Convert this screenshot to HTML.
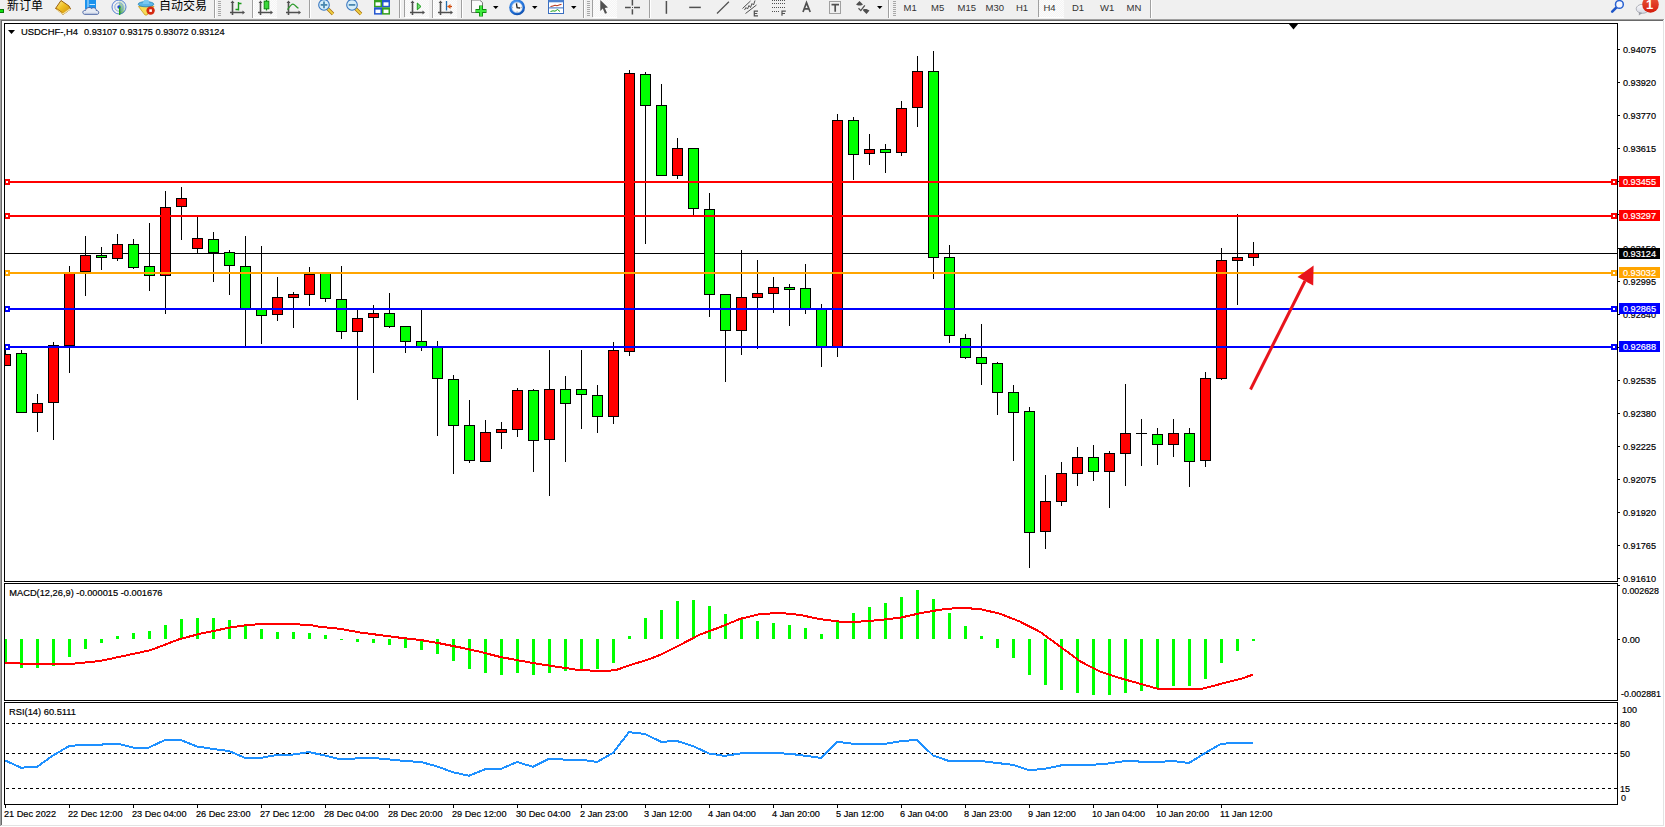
<!DOCTYPE html><html><head><meta charset="utf-8"><title>USDCHF-,H4</title><style>html,body{margin:0;padding:0;width:1665px;height:827px;overflow:hidden;background:#f0f0f0}text{font-family:'Liberation Sans', 'Noto Sans CJK SC', sans-serif}</style></head><body><svg width="1665" height="827" viewBox="0 0 1665 827" style="display:block"><rect x="0" y="0" width="1665" height="827" fill="#f0f0f0"/><rect x="0" y="19" width="1664" height="1" fill="#a0a0a0"/><rect x="0" y="19" width="1" height="807" fill="#a0a0a0"/><rect x="1" y="20" width="1662" height="1" fill="#696969"/><rect x="1" y="20" width="1" height="805" fill="#696969"/><rect x="0" y="826" width="1665" height="1" fill="#ffffff"/><rect x="1664" y="19" width="1" height="808" fill="#ffffff"/><rect x="1" y="825" width="1663" height="1" fill="#e3e3e3"/><rect x="1663" y="20" width="1" height="806" fill="#e3e3e3"/><rect x="2" y="21" width="1661" height="804" fill="#ffffff"/><defs><clipPath id="cm"><rect x="5" y="24" width="1612" height="557"/></clipPath><clipPath id="cmacd"><rect x="5" y="584" width="1612" height="116"/></clipPath><clipPath id="crsi"><rect x="5" y="703" width="1612" height="101"/></clipPath></defs><g font-family="'Liberation Sans', 'Noto Sans CJK SC', sans-serif"><rect x="-1" y="9.5" width="4.5" height="3" fill="#10e010" stroke="#0a7a0a" stroke-width="1"/><text x="7" y="9.6" font-size="12" fill="#000">新订单</text><defs><linearGradient id="gb" x1="0" y1="0" x2="1" y2="1"><stop offset="0" stop-color="#fff0a0"/><stop offset="0.45" stop-color="#f0c020"/><stop offset="1" stop-color="#c88a10"/></linearGradient><radialGradient id="rg" cx="0.1" cy="0.9" r="1"><stop offset="0" stop-color="#1e9a1e"/><stop offset="0.6" stop-color="#8cc88c"/><stop offset="1" stop-color="#e0eee0" stop-opacity="0.3"/></radialGradient></defs><path d="M61,0.5 L69,6 L70.5,9 L63,14.5 L55.5,8.5 Z" fill="url(#gb)" stroke="#9a5f0c" stroke-width="1" stroke-linejoin="round"/><path d="M56.5,9.5 L63,14 L70,9" fill="none" stroke="#f4e4a8" stroke-width="1.1"/><path d="M56,8 L62.5,12.8" stroke="#b8780e" stroke-width="1"/><rect x="85" y="0" width="11" height="9" fill="#1b93ee"/><path d="M88,0 V8 M89.5,4.5 H95" stroke="#c8e8ff" stroke-width="1"/><path d="M84.5,14.3 C82,13.8 82.3,10 85.6,10.4 C86,7.6 89.8,6.6 91.6,8.4 C93.2,7 96.4,7.8 96.2,10.4 C99,10.3 99.6,14 97.4,14.3 Z" fill="#e6ebf4" stroke="#4863a4" stroke-width="1"/><path d="M84.5,13.3 H97.5" stroke="#b8c4dc" stroke-width="1"/><path d="M119,0 A7,7 0 0 1 119,14.5 Z" fill="url(#rg)" opacity="0.8"/><circle cx="119" cy="7" r="7" fill="none" stroke="#3d6fcf" stroke-width="1" opacity="0.85"/><circle cx="119" cy="7" r="4.2" fill="none" stroke="#6f9ad8" stroke-width="1" opacity="0.8"/><circle cx="119" cy="7" r="1.7" fill="#2452c8"/><rect x="119" y="7" width="1.3" height="8" fill="#1ea51e"/><path d="M138.5,6.5 L154,6.5 L147,15 L145,15 Z" fill="#f6dc56" stroke="#c89a20" stroke-width="0.8"/><ellipse cx="146" cy="4.2" rx="7.8" ry="2.6" fill="#5ab5e6" stroke="#2a86b8" stroke-width="0.8"/><path d="M142.5,4 L144,0 L148.5,0 L149.5,4 Z" fill="#7ac8f0"/><circle cx="150.6" cy="10.6" r="4.2" fill="#d42a12"/><rect x="149.3" y="9.3" width="2.6" height="2.6" fill="#fff"/><text x="159" y="9.6" font-size="12" fill="#000">自动交易</text></g><defs><pattern id="chk" width="2" height="2" patternUnits="userSpaceOnUse"><rect width="2" height="2" fill="#f4f4f4"/><rect width="1" height="1" fill="#fcfcfc"/><rect x="1" y="1" width="1" height="1" fill="#fcfcfc"/></pattern></defs><rect x="253" y="0" width="24" height="17" fill="url(#chk)"/><rect x="253" y="17" width="24" height="1" fill="#ffffff"/><rect x="405" y="0" width="24" height="17" fill="url(#chk)"/><rect x="405" y="17" width="24" height="1" fill="#ffffff"/><rect x="433" y="0" width="24" height="17" fill="url(#chk)"/><rect x="433" y="17" width="24" height="1" fill="#ffffff"/><rect x="593" y="0" width="24" height="17" fill="url(#chk)"/><rect x="593" y="17" width="24" height="1" fill="#ffffff"/><rect x="1039" y="0" width="25" height="17" fill="url(#chk)"/><rect x="1039" y="17" width="25" height="1" fill="#ffffff"/><rect x="214" y="0" width="1" height="18" fill="#a0a0a0"/><rect x="215" y="0" width="1" height="18" fill="#ffffff"/><rect x="252" y="0" width="1" height="18" fill="#a0a0a0"/><rect x="253" y="0" width="1" height="18" fill="#ffffff"/><rect x="309" y="0" width="1" height="18" fill="#a0a0a0"/><rect x="310" y="0" width="1" height="18" fill="#ffffff"/><rect x="399" y="0" width="1" height="18" fill="#a0a0a0"/><rect x="400" y="0" width="1" height="18" fill="#ffffff"/><rect x="432" y="0" width="1" height="18" fill="#a0a0a0"/><rect x="433" y="0" width="1" height="18" fill="#ffffff"/><rect x="461" y="0" width="1" height="18" fill="#a0a0a0"/><rect x="462" y="0" width="1" height="18" fill="#ffffff"/><rect x="583" y="0" width="1" height="18" fill="#a0a0a0"/><rect x="584" y="0" width="1" height="18" fill="#ffffff"/><rect x="649" y="0" width="1" height="18" fill="#a0a0a0"/><rect x="650" y="0" width="1" height="18" fill="#ffffff"/><rect x="888" y="0" width="1" height="18" fill="#a0a0a0"/><rect x="889" y="0" width="1" height="18" fill="#ffffff"/><rect x="1150" y="0" width="1" height="18" fill="#a0a0a0"/><rect x="1151" y="0" width="1" height="18" fill="#ffffff"/><rect x="404" y="0" width="1" height="17" fill="#a0a0a0"/><rect x="592" y="0" width="1" height="17" fill="#a0a0a0"/><rect x="1038" y="0" width="1" height="17" fill="#a0a0a0"/><rect x="218" y="1" width="3" height="1" fill="#a8a8a8"/><rect x="218" y="3" width="3" height="1" fill="#a8a8a8"/><rect x="218" y="5" width="3" height="1" fill="#a8a8a8"/><rect x="218" y="7" width="3" height="1" fill="#a8a8a8"/><rect x="218" y="9" width="3" height="1" fill="#a8a8a8"/><rect x="218" y="11" width="3" height="1" fill="#a8a8a8"/><rect x="218" y="13" width="3" height="1" fill="#a8a8a8"/><rect x="218" y="15" width="3" height="1" fill="#a8a8a8"/><rect x="587" y="1" width="3" height="1" fill="#a8a8a8"/><rect x="587" y="3" width="3" height="1" fill="#a8a8a8"/><rect x="587" y="5" width="3" height="1" fill="#a8a8a8"/><rect x="587" y="7" width="3" height="1" fill="#a8a8a8"/><rect x="587" y="9" width="3" height="1" fill="#a8a8a8"/><rect x="587" y="11" width="3" height="1" fill="#a8a8a8"/><rect x="587" y="13" width="3" height="1" fill="#a8a8a8"/><rect x="587" y="15" width="3" height="1" fill="#a8a8a8"/><rect x="893" y="1" width="3" height="1" fill="#a8a8a8"/><rect x="893" y="3" width="3" height="1" fill="#a8a8a8"/><rect x="893" y="5" width="3" height="1" fill="#a8a8a8"/><rect x="893" y="7" width="3" height="1" fill="#a8a8a8"/><rect x="893" y="9" width="3" height="1" fill="#a8a8a8"/><rect x="893" y="11" width="3" height="1" fill="#a8a8a8"/><rect x="893" y="13" width="3" height="1" fill="#a8a8a8"/><rect x="893" y="15" width="3" height="1" fill="#a8a8a8"/><path d="M232.5,2 V15 M230,12.5 H243" stroke="#505050" stroke-width="1.6" fill="none"/><path d="M230.5,3 L232.5,0.5 L234.5,3 Z M242.5,10.5 L245,12.5 L242.5,14.5 Z" fill="#505050"/><path d="M238.5,2 V10.5 M238.5,3.5 H241.5 M238.5,9.5 H235.5" stroke="#1c9a1c" stroke-width="1.4" fill="none"/><path d="M260.5,2 V15 M258,12.5 H271" stroke="#505050" stroke-width="1.6" fill="none"/><path d="M258.5,3 L260.5,0.5 L262.5,3 Z M270.5,10.5 L273,12.5 L270.5,14.5 Z" fill="#505050"/><path d="M266.5,0 V10.5" stroke="#108a10" stroke-width="1.2"/><rect x="264.2" y="1.2" width="4.6" height="7.6" fill="#3ad83a" stroke="#108a10" stroke-width="1"/><path d="M288.5,2 V15 M286,12.5 H299" stroke="#505050" stroke-width="1.6" fill="none"/><path d="M286.5,3 L288.5,0.5 L290.5,3 Z M298.5,10.5 L301,12.5 L298.5,14.5 Z" fill="#505050"/><path d="M287.5,9.6 C290,6 291.5,4 293,4.2 C295,4.5 296.5,7.5 298.5,8.3" stroke="#2a9a2a" stroke-width="1.2" fill="none"/><path d="M327.5,8.5 L333,14" stroke="#a87010" stroke-width="3.4"/><path d="M327.5,8.5 L333,14" stroke="#f0d040" stroke-width="1.8"/><circle cx="324" cy="4.9" r="5.3" fill="#d6eefa" stroke="#3a78c0" stroke-width="1.1"/><path d="M320.7,4.9 H327.3" stroke="#4a88b0" stroke-width="1.8"/><path d="M324,1.6 V8.2" stroke="#4a88b0" stroke-width="1.8"/><path d="M355.5,8.5 L361,14" stroke="#a87010" stroke-width="3.4"/><path d="M355.5,8.5 L361,14" stroke="#f0d040" stroke-width="1.8"/><circle cx="352" cy="4.9" r="5.3" fill="#d6eefa" stroke="#3a78c0" stroke-width="1.1"/><path d="M348.7,4.9 H355.3" stroke="#4a88b0" stroke-width="1.8"/><rect x="374" y="0" width="8" height="7.3" fill="#34a01e"/><rect x="375.5" y="2.3" width="5" height="3.5" fill="#ffffff"/><rect x="382" y="0" width="8" height="7.3" fill="#2456d0"/><rect x="383.5" y="2.3" width="5" height="3.5" fill="#ffffff"/><rect x="374" y="7.3" width="8" height="7.3" fill="#2456d0"/><rect x="375.5" y="9.6" width="5" height="3.5" fill="#ffffff"/><rect x="382" y="7.3" width="8" height="7.3" fill="#34a01e"/><rect x="383.5" y="9.6" width="5" height="3.5" fill="#ffffff"/><path d="M412.5,2 V15 M410,12.5 H423" stroke="#505050" stroke-width="1.6" fill="none"/><path d="M410.5,3 L412.5,0.5 L414.5,3 Z M422.5,10.5 L425,12.5 L422.5,14.5 Z" fill="#505050"/><path d="M417.3,3 L421,6.5 L417.3,9.8 Z" fill="#70e070" stroke="#1c9a1c" stroke-width="1"/><path d="M440.5,2 V15 M438,12.5 H451" stroke="#505050" stroke-width="1.6" fill="none"/><path d="M438.5,3 L440.5,0.5 L442.5,3 Z M450.5,10.5 L453,12.5 L450.5,14.5 Z" fill="#505050"/><path d="M446.5,1 V10.5" stroke="#1f6fb0" stroke-width="1.3"/><path d="M447.5,6.5 H452" stroke="#c04010" stroke-width="1.3"/><path d="M447.5,6.5 L450.5,4 L450.5,9 Z" fill="#e05a10"/><path d="M471.5,0 H479.5 L482.5,2.5 V12.5 H471.5 Z" fill="#fbfbfb" stroke="#7a7a7a" stroke-width="1"/><path d="M481,5.5 V16.5 M475.5,11 H486.5" stroke="#0f8a0f" stroke-width="4"/><path d="M481,6 V16 M476,11 H486" stroke="#3ee83e" stroke-width="2.2"/><path d="M493,6 L498.5,6 L495.75,9 Z" fill="#000"/><path d="M532,6 L537.5,6 L534.75,9 Z" fill="#000"/><path d="M571,6 L576.5,6 L573.75,9 Z" fill="#000"/><path d="M877,6 L882.5,6 L879.75,9 Z" fill="#000"/><defs><radialGradient id="clk" cx="0.4" cy="0.3" r="0.8"><stop offset="0" stop-color="#5aa8ff"/><stop offset="0.7" stop-color="#1a68d0"/><stop offset="1" stop-color="#0a3c90"/></radialGradient></defs><circle cx="517.1" cy="7.4" r="7.9" fill="url(#clk)"/><circle cx="517.1" cy="7.4" r="5.3" fill="#fbfbfb" stroke="#9ab8e0" stroke-width="0.6"/><path d="M516.4,3.3 L517.1,7.6 L520.2,8" stroke="#202020" stroke-width="1.3" fill="none"/><path d="M517.1,2.6 V3.4 M517.1,11.4 V12.2 M512.3,7.4 H513.1 M521.1,7.4 H521.9" stroke="#808080" stroke-width="0.8"/><rect x="548.5" y="0.5" width="15" height="13" fill="#ffffff" stroke="#3a6ec0" stroke-width="1"/><rect x="548.5" y="0" width="15" height="2.3" fill="#4a80d0"/><path d="M549,7.9 H563" stroke="#3a6ec0" stroke-width="1"/><path d="M550.5,6.5 L553,6 L555,5.2 L557,5.8 L559,5 L561.5,4.4" stroke="#b02810" stroke-width="1" fill="none"/><path d="M550.5,11.5 L553,10.8 L555,11.2 L557.5,9.5 L560,11.5" stroke="#18a018" stroke-width="1" fill="none"/><path d="M600.3,0 L600.3,11 L602.8,8.6 L605,13.8 L607,13 L604.8,8 L608,7.6 Z" fill="#505050"/><path d="M625,7.4 H630.8 M634,7.4 H640 M632.4,0 V5.4 M632.4,9.2 V14.5" stroke="#505050" stroke-width="1.5"/><rect x="632" y="7" width="1" height="1" fill="#505050"/><path d="M666.4,1 V13.8" stroke="#505050" stroke-width="1.5"/><path d="M689.2,7.4 H700.8" stroke="#505050" stroke-width="1.5"/><path d="M717,13.5 L728.9,1.8" stroke="#505050" stroke-width="1.2"/><path d="M742.5,8.5 L750.5,1 M745.5,13.5 L756.5,5 M744.5,10 L746,7.5 L747.5,9 L749,5.5 L750.5,7.5 L752,3.5 L753.5,5 L755,0.5" stroke="#505050" stroke-width="1" fill="none"/><path d="M758,11.2 H754.3 V15.8 H758 M754.3,13.5 H757.3" stroke="#505050" stroke-width="1.2" fill="none"/><path d="M772,0.5 H785 M772,3.5 H785 M772,7.5 H785 M772,11.5 H780" stroke="#505050" stroke-width="1" stroke-dasharray="1 1"/><path d="M785.8,11.2 H782 V15.8 M782,13.5 H785" stroke="#505050" stroke-width="1.2" fill="none"/><path d="M803,12 L806.5,2.7 L810.2,12 M804.4,8.8 H808.8" stroke="#505050" stroke-width="1.7" fill="none"/><rect x="829.5" y="1.5" width="11" height="12" fill="none" stroke="#505050" stroke-width="1" stroke-dasharray="1 1"/><path d="M831.5,4.6 H839 M835.2,4.6 V11.8" stroke="#505050" stroke-width="1.7"/><path d="M856,4.5 L859.5,1 L863,4.5 L861,5.5 L858,5.5 Z M863.5,9 L866.5,9 L869.5,10.5 L866.5,14 L863,10.5 Z" fill="#505050"/><path d="M858.5,8.3 L860.8,10.6 L864.8,5.3" stroke="#505050" stroke-width="1.3" fill="none"/><text x="903.5" y="11" font-size="9.5" fill="#333" font-family="'Liberation Sans', 'Noto Sans CJK SC', sans-serif">M1</text><text x="931" y="11" font-size="9.5" fill="#333" font-family="'Liberation Sans', 'Noto Sans CJK SC', sans-serif">M5</text><text x="957.5" y="11" font-size="9.5" fill="#333" font-family="'Liberation Sans', 'Noto Sans CJK SC', sans-serif">M15</text><text x="985.5" y="11" font-size="9.5" fill="#333" font-family="'Liberation Sans', 'Noto Sans CJK SC', sans-serif">M30</text><text x="1016" y="11" font-size="9.5" fill="#333" font-family="'Liberation Sans', 'Noto Sans CJK SC', sans-serif">H1</text><text x="1043.5" y="11" font-size="9.5" fill="#333" font-family="'Liberation Sans', 'Noto Sans CJK SC', sans-serif">H4</text><text x="1072" y="11" font-size="9.5" fill="#333" font-family="'Liberation Sans', 'Noto Sans CJK SC', sans-serif">D1</text><text x="1100" y="11" font-size="9.5" fill="#333" font-family="'Liberation Sans', 'Noto Sans CJK SC', sans-serif">W1</text><text x="1126.5" y="11" font-size="9.5" fill="#333" font-family="'Liberation Sans', 'Noto Sans CJK SC', sans-serif">MN</text><path d="M1616.2,7.6 L1612.2,11.6" stroke="#1f56c8" stroke-width="2.6" stroke-linecap="round"/><circle cx="1619.4" cy="4.4" r="3.9" fill="#f4f6ff" stroke="#2a62d0" stroke-width="1.5"/><defs><linearGradient id="bub" x1="0" y1="0" x2="0" y2="1"><stop offset="0" stop-color="#fbfbfd"/><stop offset="1" stop-color="#d6d8e2"/></linearGradient><linearGradient id="bdg" x1="0" y1="0" x2="0" y2="1"><stop offset="0" stop-color="#ec5a3a"/><stop offset="1" stop-color="#d41c0c"/></linearGradient></defs><ellipse cx="1642.5" cy="8.8" rx="6.3" ry="4.5" fill="url(#bub)" stroke="#a8aab2" stroke-width="0.9"/><path d="M1639,12.3 L1638.8,15.6 L1642.5,13 Z" fill="#9a9ca4"/><circle cx="1650.5" cy="4.4" r="8.3" fill="url(#bdg)"/><text x="1649.5" y="9.2" font-size="13" font-weight="bold" fill="#fff" text-anchor="middle" font-family="Liberation Serif, serif">1</text><g clip-path="url(#cm)" shape-rendering="crispEdges"><rect x="5" y="253" width="1612" height="1" fill="#000"/><rect x="5" y="345" width="1" height="21" fill="#000"/><rect x="0" y="354" width="11" height="12" fill="#000"/><rect x="1" y="355" width="9" height="10" fill="#ff0000"/><rect x="21" y="350" width="1" height="63" fill="#000"/><rect x="16" y="353" width="11" height="60" fill="#000"/><rect x="17" y="354" width="9" height="58" fill="#00ff00"/><rect x="37" y="394" width="1" height="38" fill="#000"/><rect x="32" y="403" width="11" height="10" fill="#000"/><rect x="33" y="404" width="9" height="8" fill="#ff0000"/><rect x="53" y="342" width="1" height="98" fill="#000"/><rect x="48" y="345" width="11" height="58" fill="#000"/><rect x="49" y="346" width="9" height="56" fill="#ff0000"/><rect x="69" y="266" width="1" height="107" fill="#000"/><rect x="64" y="273" width="11" height="73" fill="#000"/><rect x="65" y="274" width="9" height="71" fill="#ff0000"/><rect x="85" y="236" width="1" height="60" fill="#000"/><rect x="80" y="255" width="11" height="17" fill="#000"/><rect x="81" y="256" width="9" height="15" fill="#ff0000"/><rect x="101" y="247" width="1" height="23" fill="#000"/><rect x="96" y="255" width="11" height="3" fill="#000"/><rect x="97" y="256" width="9" height="1" fill="#00ff00"/><rect x="117" y="234" width="1" height="27" fill="#000"/><rect x="112" y="244" width="11" height="15" fill="#000"/><rect x="113" y="245" width="9" height="13" fill="#ff0000"/><rect x="133" y="239" width="1" height="30" fill="#000"/><rect x="128" y="244" width="11" height="24" fill="#000"/><rect x="129" y="245" width="9" height="22" fill="#00ff00"/><rect x="149" y="223" width="1" height="68" fill="#000"/><rect x="144" y="266" width="11" height="10" fill="#000"/><rect x="145" y="267" width="9" height="8" fill="#00ff00"/><rect x="165" y="191" width="1" height="123" fill="#000"/><rect x="160" y="207" width="11" height="69" fill="#000"/><rect x="161" y="208" width="9" height="67" fill="#ff0000"/><rect x="181" y="187" width="1" height="53" fill="#000"/><rect x="176" y="198" width="11" height="9" fill="#000"/><rect x="177" y="199" width="9" height="7" fill="#ff0000"/><rect x="197" y="217" width="1" height="36" fill="#000"/><rect x="192" y="238" width="11" height="11" fill="#000"/><rect x="193" y="239" width="9" height="9" fill="#ff0000"/><rect x="213" y="232" width="1" height="50" fill="#000"/><rect x="208" y="239" width="11" height="14" fill="#000"/><rect x="209" y="240" width="9" height="12" fill="#00ff00"/><rect x="229" y="250" width="1" height="45" fill="#000"/><rect x="224" y="252" width="11" height="14" fill="#000"/><rect x="225" y="253" width="9" height="12" fill="#00ff00"/><rect x="245" y="236" width="1" height="111" fill="#000"/><rect x="240" y="266" width="11" height="43" fill="#000"/><rect x="241" y="267" width="9" height="41" fill="#00ff00"/><rect x="261" y="246" width="1" height="98" fill="#000"/><rect x="256" y="309" width="11" height="7" fill="#000"/><rect x="257" y="310" width="9" height="5" fill="#00ff00"/><rect x="277" y="277" width="1" height="44" fill="#000"/><rect x="272" y="297" width="11" height="18" fill="#000"/><rect x="273" y="298" width="9" height="16" fill="#ff0000"/><rect x="293" y="292" width="1" height="36" fill="#000"/><rect x="288" y="294" width="11" height="4" fill="#000"/><rect x="289" y="295" width="9" height="2" fill="#ff0000"/><rect x="309" y="267" width="1" height="39" fill="#000"/><rect x="304" y="274" width="11" height="21" fill="#000"/><rect x="305" y="275" width="9" height="19" fill="#ff0000"/><rect x="325" y="272" width="1" height="30" fill="#000"/><rect x="320" y="272" width="11" height="27" fill="#000"/><rect x="321" y="273" width="9" height="25" fill="#00ff00"/><rect x="341" y="266" width="1" height="73" fill="#000"/><rect x="336" y="299" width="11" height="33" fill="#000"/><rect x="337" y="300" width="9" height="31" fill="#00ff00"/><rect x="357" y="310" width="1" height="90" fill="#000"/><rect x="352" y="318" width="11" height="14" fill="#000"/><rect x="353" y="319" width="9" height="12" fill="#ff0000"/><rect x="373" y="305" width="1" height="68" fill="#000"/><rect x="368" y="313" width="11" height="5" fill="#000"/><rect x="369" y="314" width="9" height="3" fill="#ff0000"/><rect x="389" y="293" width="1" height="35" fill="#000"/><rect x="384" y="313" width="11" height="14" fill="#000"/><rect x="385" y="314" width="9" height="12" fill="#00ff00"/><rect x="405" y="326" width="1" height="27" fill="#000"/><rect x="400" y="326" width="11" height="16" fill="#000"/><rect x="401" y="327" width="9" height="14" fill="#00ff00"/><rect x="421" y="310" width="1" height="41" fill="#000"/><rect x="416" y="341" width="11" height="6" fill="#000"/><rect x="417" y="342" width="9" height="4" fill="#00ff00"/><rect x="437" y="341" width="1" height="95" fill="#000"/><rect x="432" y="347" width="11" height="32" fill="#000"/><rect x="433" y="348" width="9" height="30" fill="#00ff00"/><rect x="453" y="375" width="1" height="99" fill="#000"/><rect x="448" y="379" width="11" height="47" fill="#000"/><rect x="449" y="380" width="9" height="45" fill="#00ff00"/><rect x="469" y="400" width="1" height="63" fill="#000"/><rect x="464" y="425" width="11" height="36" fill="#000"/><rect x="465" y="426" width="9" height="34" fill="#00ff00"/><rect x="485" y="420" width="1" height="42" fill="#000"/><rect x="480" y="432" width="11" height="30" fill="#000"/><rect x="481" y="433" width="9" height="28" fill="#ff0000"/><rect x="501" y="422" width="1" height="27" fill="#000"/><rect x="496" y="429" width="11" height="4" fill="#000"/><rect x="497" y="430" width="9" height="2" fill="#ff0000"/><rect x="517" y="388" width="1" height="49" fill="#000"/><rect x="512" y="390" width="11" height="40" fill="#000"/><rect x="513" y="391" width="9" height="38" fill="#ff0000"/><rect x="533" y="389" width="1" height="83" fill="#000"/><rect x="528" y="390" width="11" height="51" fill="#000"/><rect x="529" y="391" width="9" height="49" fill="#00ff00"/><rect x="549" y="350" width="1" height="146" fill="#000"/><rect x="544" y="389" width="11" height="51" fill="#000"/><rect x="545" y="390" width="9" height="49" fill="#ff0000"/><rect x="565" y="376" width="1" height="86" fill="#000"/><rect x="560" y="389" width="11" height="15" fill="#000"/><rect x="561" y="390" width="9" height="13" fill="#00ff00"/><rect x="581" y="350" width="1" height="79" fill="#000"/><rect x="576" y="389" width="11" height="6" fill="#000"/><rect x="577" y="390" width="9" height="4" fill="#00ff00"/><rect x="597" y="385" width="1" height="48" fill="#000"/><rect x="592" y="395" width="11" height="22" fill="#000"/><rect x="593" y="396" width="9" height="20" fill="#00ff00"/><rect x="613" y="342" width="1" height="82" fill="#000"/><rect x="608" y="350" width="11" height="67" fill="#000"/><rect x="609" y="351" width="9" height="65" fill="#ff0000"/><rect x="629" y="70" width="1" height="286" fill="#000"/><rect x="624" y="73" width="11" height="279" fill="#000"/><rect x="625" y="74" width="9" height="277" fill="#ff0000"/><rect x="645" y="72" width="1" height="172" fill="#000"/><rect x="640" y="74" width="11" height="32" fill="#000"/><rect x="641" y="75" width="9" height="30" fill="#00ff00"/><rect x="661" y="84" width="1" height="92" fill="#000"/><rect x="656" y="105" width="11" height="71" fill="#000"/><rect x="657" y="106" width="9" height="69" fill="#00ff00"/><rect x="677" y="138" width="1" height="41" fill="#000"/><rect x="672" y="148" width="11" height="28" fill="#000"/><rect x="673" y="149" width="9" height="26" fill="#ff0000"/><rect x="693" y="148" width="1" height="67" fill="#000"/><rect x="688" y="148" width="11" height="61" fill="#000"/><rect x="689" y="149" width="9" height="59" fill="#00ff00"/><rect x="709" y="193" width="1" height="124" fill="#000"/><rect x="704" y="209" width="11" height="86" fill="#000"/><rect x="705" y="210" width="9" height="84" fill="#00ff00"/><rect x="725" y="294" width="1" height="88" fill="#000"/><rect x="720" y="294" width="11" height="37" fill="#000"/><rect x="721" y="295" width="9" height="35" fill="#00ff00"/><rect x="741" y="250" width="1" height="105" fill="#000"/><rect x="736" y="297" width="11" height="34" fill="#000"/><rect x="737" y="298" width="9" height="32" fill="#ff0000"/><rect x="757" y="260" width="1" height="89" fill="#000"/><rect x="752" y="293" width="11" height="5" fill="#000"/><rect x="753" y="294" width="9" height="3" fill="#ff0000"/><rect x="773" y="277" width="1" height="36" fill="#000"/><rect x="768" y="287" width="11" height="7" fill="#000"/><rect x="769" y="288" width="9" height="5" fill="#ff0000"/><rect x="789" y="284" width="1" height="42" fill="#000"/><rect x="784" y="287" width="11" height="3" fill="#000"/><rect x="785" y="288" width="9" height="1" fill="#00ff00"/><rect x="805" y="264" width="1" height="50" fill="#000"/><rect x="800" y="288" width="11" height="21" fill="#000"/><rect x="801" y="289" width="9" height="19" fill="#00ff00"/><rect x="821" y="304" width="1" height="63" fill="#000"/><rect x="816" y="309" width="11" height="38" fill="#000"/><rect x="817" y="310" width="9" height="36" fill="#00ff00"/><rect x="837" y="114" width="1" height="243" fill="#000"/><rect x="832" y="120" width="11" height="227" fill="#000"/><rect x="833" y="121" width="9" height="225" fill="#ff0000"/><rect x="853" y="117" width="1" height="63" fill="#000"/><rect x="848" y="120" width="11" height="35" fill="#000"/><rect x="849" y="121" width="9" height="33" fill="#00ff00"/><rect x="869" y="134" width="1" height="31" fill="#000"/><rect x="864" y="149" width="11" height="5" fill="#000"/><rect x="865" y="150" width="9" height="3" fill="#ff0000"/><rect x="885" y="144" width="1" height="29" fill="#000"/><rect x="880" y="149" width="11" height="4" fill="#000"/><rect x="881" y="150" width="9" height="2" fill="#00ff00"/><rect x="901" y="101" width="1" height="55" fill="#000"/><rect x="896" y="108" width="11" height="45" fill="#000"/><rect x="897" y="109" width="9" height="43" fill="#ff0000"/><rect x="917" y="56" width="1" height="71" fill="#000"/><rect x="912" y="71" width="11" height="37" fill="#000"/><rect x="913" y="72" width="9" height="35" fill="#ff0000"/><rect x="933" y="51" width="1" height="228" fill="#000"/><rect x="928" y="71" width="11" height="187" fill="#000"/><rect x="929" y="72" width="9" height="185" fill="#00ff00"/><rect x="949" y="245" width="1" height="98" fill="#000"/><rect x="944" y="257" width="11" height="79" fill="#000"/><rect x="945" y="258" width="9" height="77" fill="#00ff00"/><rect x="965" y="334" width="1" height="25" fill="#000"/><rect x="960" y="338" width="11" height="20" fill="#000"/><rect x="961" y="339" width="9" height="18" fill="#00ff00"/><rect x="981" y="324" width="1" height="61" fill="#000"/><rect x="976" y="357" width="11" height="7" fill="#000"/><rect x="977" y="358" width="9" height="5" fill="#00ff00"/><rect x="997" y="362" width="1" height="53" fill="#000"/><rect x="992" y="363" width="11" height="30" fill="#000"/><rect x="993" y="364" width="9" height="28" fill="#00ff00"/><rect x="1013" y="385" width="1" height="76" fill="#000"/><rect x="1008" y="392" width="11" height="21" fill="#000"/><rect x="1009" y="393" width="9" height="19" fill="#00ff00"/><rect x="1029" y="407" width="1" height="161" fill="#000"/><rect x="1024" y="411" width="11" height="122" fill="#000"/><rect x="1025" y="412" width="9" height="120" fill="#00ff00"/><rect x="1045" y="475" width="1" height="74" fill="#000"/><rect x="1040" y="501" width="11" height="31" fill="#000"/><rect x="1041" y="502" width="9" height="29" fill="#ff0000"/><rect x="1061" y="462" width="1" height="44" fill="#000"/><rect x="1056" y="473" width="11" height="29" fill="#000"/><rect x="1057" y="474" width="9" height="27" fill="#ff0000"/><rect x="1077" y="447" width="1" height="39" fill="#000"/><rect x="1072" y="457" width="11" height="17" fill="#000"/><rect x="1073" y="458" width="9" height="15" fill="#ff0000"/><rect x="1093" y="445" width="1" height="36" fill="#000"/><rect x="1088" y="457" width="11" height="15" fill="#000"/><rect x="1089" y="458" width="9" height="13" fill="#00ff00"/><rect x="1109" y="451" width="1" height="57" fill="#000"/><rect x="1104" y="453" width="11" height="19" fill="#000"/><rect x="1105" y="454" width="9" height="17" fill="#ff0000"/><rect x="1125" y="384" width="1" height="102" fill="#000"/><rect x="1120" y="433" width="11" height="21" fill="#000"/><rect x="1121" y="434" width="9" height="19" fill="#ff0000"/><rect x="1141" y="419" width="1" height="47" fill="#000"/><rect x="1136" y="433" width="11" height="1" fill="#000"/><rect x="1157" y="428" width="1" height="37" fill="#000"/><rect x="1152" y="434" width="11" height="11" fill="#000"/><rect x="1153" y="435" width="9" height="9" fill="#00ff00"/><rect x="1173" y="419" width="1" height="38" fill="#000"/><rect x="1168" y="433" width="11" height="12" fill="#000"/><rect x="1169" y="434" width="9" height="10" fill="#ff0000"/><rect x="1189" y="428" width="1" height="59" fill="#000"/><rect x="1184" y="433" width="11" height="29" fill="#000"/><rect x="1185" y="434" width="9" height="27" fill="#00ff00"/><rect x="1205" y="372" width="1" height="95" fill="#000"/><rect x="1200" y="378" width="11" height="83" fill="#000"/><rect x="1201" y="379" width="9" height="81" fill="#ff0000"/><rect x="1221" y="248" width="1" height="132" fill="#000"/><rect x="1216" y="260" width="11" height="119" fill="#000"/><rect x="1217" y="261" width="9" height="117" fill="#ff0000"/><rect x="1237" y="214" width="1" height="91" fill="#000"/><rect x="1232" y="257" width="11" height="4" fill="#000"/><rect x="1233" y="258" width="9" height="2" fill="#ff0000"/><rect x="1253" y="242" width="1" height="24" fill="#000"/><rect x="1248" y="253" width="11" height="5" fill="#000"/><rect x="1249" y="254" width="9" height="3" fill="#ff0000"/><rect x="5" y="181" width="1612" height="2" fill="#ff0000"/><rect x="4" y="179" width="6" height="6" fill="#ff0000"/><rect x="6" y="181" width="2" height="2" fill="#fff"/><rect x="1611" y="179" width="6" height="6" fill="#ff0000"/><rect x="1613" y="181" width="2" height="2" fill="#fff"/><rect x="5" y="215" width="1612" height="2" fill="#ff0000"/><rect x="4" y="213" width="6" height="6" fill="#ff0000"/><rect x="6" y="215" width="2" height="2" fill="#fff"/><rect x="1611" y="213" width="6" height="6" fill="#ff0000"/><rect x="1613" y="215" width="2" height="2" fill="#fff"/><rect x="5" y="272" width="1612" height="2" fill="#ffa500"/><rect x="4" y="270" width="6" height="6" fill="#ffa500"/><rect x="6" y="272" width="2" height="2" fill="#fff"/><rect x="1611" y="270" width="6" height="6" fill="#ffa500"/><rect x="1613" y="272" width="2" height="2" fill="#fff"/><rect x="5" y="308" width="1612" height="2" fill="#0000ff"/><rect x="4" y="306" width="6" height="6" fill="#0000ff"/><rect x="6" y="308" width="2" height="2" fill="#fff"/><rect x="1611" y="306" width="6" height="6" fill="#0000ff"/><rect x="1613" y="308" width="2" height="2" fill="#fff"/><rect x="5" y="346" width="1612" height="2" fill="#0000ff"/><rect x="4" y="344" width="6" height="6" fill="#0000ff"/><rect x="6" y="346" width="2" height="2" fill="#fff"/><rect x="1611" y="344" width="6" height="6" fill="#0000ff"/><rect x="1613" y="346" width="2" height="2" fill="#fff"/></g><g fill="#e8141c" stroke="none"><line x1="1250.5" y1="389.5" x2="1305" y2="281" stroke="#e8141c" stroke-width="3"/><polygon points="1313.6,265.5 1297.5,277 1313.2,285.5"/></g><polygon points="1288.5,23.5 1298.5,23.5 1293.5,29.5" fill="#000"/><g clip-path="url(#cmacd)" shape-rendering="crispEdges"><rect x="4" y="639" width="3" height="24" fill="#00ff00"/><rect x="20" y="639" width="3" height="29" fill="#00ff00"/><rect x="36" y="639" width="3" height="29" fill="#00ff00"/><rect x="52" y="639" width="3" height="27" fill="#00ff00"/><rect x="68" y="639" width="3" height="18" fill="#00ff00"/><rect x="84" y="639" width="3" height="10" fill="#00ff00"/><rect x="100" y="639" width="3" height="4" fill="#00ff00"/><rect x="116" y="636" width="3" height="3" fill="#00ff00"/><rect x="132" y="633" width="3" height="6" fill="#00ff00"/><rect x="148" y="631" width="3" height="8" fill="#00ff00"/><rect x="164" y="625" width="3" height="14" fill="#00ff00"/><rect x="180" y="619" width="3" height="20" fill="#00ff00"/><rect x="196" y="618" width="3" height="21" fill="#00ff00"/><rect x="212" y="618" width="3" height="21" fill="#00ff00"/><rect x="228" y="620" width="3" height="19" fill="#00ff00"/><rect x="244" y="626" width="3" height="13" fill="#00ff00"/><rect x="260" y="629" width="3" height="10" fill="#00ff00"/><rect x="276" y="632" width="3" height="7" fill="#00ff00"/><rect x="292" y="632" width="3" height="7" fill="#00ff00"/><rect x="308" y="633" width="3" height="6" fill="#00ff00"/><rect x="324" y="635" width="3" height="4" fill="#00ff00"/><rect x="340" y="639" width="3" height="1" fill="#00ff00"/><rect x="356" y="639" width="3" height="3" fill="#00ff00"/><rect x="372" y="639" width="3" height="4" fill="#00ff00"/><rect x="388" y="639" width="3" height="6" fill="#00ff00"/><rect x="404" y="639" width="3" height="9" fill="#00ff00"/><rect x="420" y="639" width="3" height="11" fill="#00ff00"/><rect x="436" y="639" width="3" height="15" fill="#00ff00"/><rect x="452" y="639" width="3" height="22" fill="#00ff00"/><rect x="468" y="639" width="3" height="30" fill="#00ff00"/><rect x="484" y="639" width="3" height="34" fill="#00ff00"/><rect x="500" y="639" width="3" height="36" fill="#00ff00"/><rect x="516" y="639" width="3" height="34" fill="#00ff00"/><rect x="532" y="639" width="3" height="36" fill="#00ff00"/><rect x="548" y="639" width="3" height="34" fill="#00ff00"/><rect x="564" y="639" width="3" height="32" fill="#00ff00"/><rect x="580" y="639" width="3" height="30" fill="#00ff00"/><rect x="596" y="639" width="3" height="30" fill="#00ff00"/><rect x="612" y="639" width="3" height="24" fill="#00ff00"/><rect x="628" y="636" width="3" height="3" fill="#00ff00"/><rect x="644" y="618" width="3" height="21" fill="#00ff00"/><rect x="660" y="610" width="3" height="29" fill="#00ff00"/><rect x="676" y="601" width="3" height="38" fill="#00ff00"/><rect x="692" y="600" width="3" height="39" fill="#00ff00"/><rect x="708" y="606" width="3" height="33" fill="#00ff00"/><rect x="724" y="614" width="3" height="25" fill="#00ff00"/><rect x="740" y="619" width="3" height="20" fill="#00ff00"/><rect x="756" y="621" width="3" height="18" fill="#00ff00"/><rect x="772" y="623" width="3" height="16" fill="#00ff00"/><rect x="788" y="625" width="3" height="14" fill="#00ff00"/><rect x="804" y="628" width="3" height="11" fill="#00ff00"/><rect x="820" y="634" width="3" height="5" fill="#00ff00"/><rect x="836" y="622" width="3" height="17" fill="#00ff00"/><rect x="852" y="613" width="3" height="26" fill="#00ff00"/><rect x="868" y="607" width="3" height="32" fill="#00ff00"/><rect x="884" y="603" width="3" height="36" fill="#00ff00"/><rect x="900" y="597" width="3" height="42" fill="#00ff00"/><rect x="916" y="590" width="3" height="49" fill="#00ff00"/><rect x="932" y="599" width="3" height="40" fill="#00ff00"/><rect x="948" y="613" width="3" height="26" fill="#00ff00"/><rect x="964" y="626" width="3" height="13" fill="#00ff00"/><rect x="980" y="636" width="3" height="3" fill="#00ff00"/><rect x="996" y="639" width="3" height="9" fill="#00ff00"/><rect x="1012" y="639" width="3" height="19" fill="#00ff00"/><rect x="1028" y="639" width="3" height="36" fill="#00ff00"/><rect x="1044" y="639" width="3" height="46" fill="#00ff00"/><rect x="1060" y="639" width="3" height="51" fill="#00ff00"/><rect x="1076" y="639" width="3" height="54" fill="#00ff00"/><rect x="1092" y="639" width="3" height="56" fill="#00ff00"/><rect x="1108" y="639" width="3" height="56" fill="#00ff00"/><rect x="1124" y="639" width="3" height="54" fill="#00ff00"/><rect x="1140" y="639" width="3" height="52" fill="#00ff00"/><rect x="1156" y="639" width="3" height="50" fill="#00ff00"/><rect x="1172" y="639" width="3" height="47" fill="#00ff00"/><rect x="1188" y="639" width="3" height="47" fill="#00ff00"/><rect x="1204" y="639" width="3" height="40" fill="#00ff00"/><rect x="1220" y="639" width="3" height="24" fill="#00ff00"/><rect x="1236" y="639" width="3" height="12" fill="#00ff00"/><rect x="1252" y="639" width="3" height="2" fill="#00ff00"/><polyline points="5,663 20,663.5 75,663.5 100,661 150,650.3 180,639 200,633.8 230,627.5 250,624.7 280,623.5 310,625 320,626.8 340,628.8 360,632.5 380,635.1 400,637.7 420,639.9 440,643.4 460,647.4 480,651.8 500,656.9 520,660.7 540,664.2 560,667.2 580,670.2 600,670.8 615,670.4 630,665.2 650,658.9 660,654.9 680,645 700,634.5 720,627.2 740,618.9 760,614.1 780,612.9 800,614.9 820,619.2 840,621.6 860,621.6 880,620 900,617.7 920,613.3 940,609.7 960,607.7 980,609.1 1000,613.7 1020,621.6 1040,631.9 1060,646.4 1080,661.3 1100,671.6 1120,678.1 1140,683.7 1160,689.4 1180,689.4 1200,689.4 1220,684.1 1240,679.1 1253,674.7" fill="none" stroke="#ff0000" stroke-width="2"/></g><g clip-path="url(#crsi)" shape-rendering="crispEdges"><line x1="6" y1="723.5" x2="1617" y2="723.5" stroke="#000" stroke-width="1" stroke-dasharray="3 3"/><line x1="6" y1="753.5" x2="1617" y2="753.5" stroke="#000" stroke-width="1" stroke-dasharray="3 3"/><line x1="6" y1="788.5" x2="1617" y2="788.5" stroke="#000" stroke-width="1" stroke-dasharray="3 3"/><polyline points="5,760.4 21,767.7 37,766.8 53,755.5 69,746.1 85,744.6 101,744.6 117,743.6 133,747.5 149,747.5 165,740 181,740 197,746.5 213,748.9 229,751.1 245,757.8 261,757.8 277,755 293,754.5 309,752.1 325,755.5 341,759.4 357,758.4 373,758 389,759.4 405,761 421,762 437,766.4 453,772.3 469,775.7 485,769.3 501,768.9 517,762 533,766.8 549,758.8 565,759.6 581,759.6 597,762 613,752.9 629,732.1 645,734 661,741.8 677,741 693,746.1 709,753.5 725,755.9 741,753.3 757,753.1 773,753.1 789,753.7 805,755.7 821,758 837,741.8 853,743.8 869,743.8 885,743.8 901,741.2 917,739.8 933,755.5 949,761 965,761 981,761 997,763 1013,764.8 1029,770.3 1045,768.7 1061,765.4 1077,764.8 1093,764.8 1109,763.4 1125,761 1141,761.6 1157,762 1173,761 1189,763 1205,753.1 1221,743.8 1237,742.8 1253,742.6" fill="none" stroke="#1e90ff" stroke-width="2"/></g><g shape-rendering="crispEdges"><rect x="4" y="23" width="1614" height="1" fill="#000"/><rect x="4" y="581" width="1614" height="1" fill="#000"/><rect x="4" y="23" width="1" height="559" fill="#000"/><rect x="1617" y="23" width="1" height="559" fill="#000"/><rect x="4" y="583" width="1614" height="1" fill="#000"/><rect x="4" y="700" width="1614" height="1" fill="#000"/><rect x="4" y="583" width="1" height="118" fill="#000"/><rect x="1617" y="583" width="1" height="118" fill="#000"/><rect x="4" y="702" width="1614" height="1" fill="#000"/><rect x="4" y="804" width="1614" height="1" fill="#000"/><rect x="4" y="702" width="1" height="103" fill="#000"/><rect x="1617" y="702" width="1" height="103" fill="#000"/></g><g font-family="'Liberation Sans', 'Noto Sans CJK SC', sans-serif"><rect x="1618" y="49" width="2" height="1" fill="#000"/><text x="1623" y="53" fill="#000" stroke="#000" stroke-width="0.2" font-size="9.8" textLength="33" lengthAdjust="spacingAndGlyphs">0.94075</text><rect x="1618" y="82" width="2" height="1" fill="#000"/><text x="1623" y="86" fill="#000" stroke="#000" stroke-width="0.2" font-size="9.8" textLength="33" lengthAdjust="spacingAndGlyphs">0.93920</text><rect x="1618" y="115" width="2" height="1" fill="#000"/><text x="1623" y="119" fill="#000" stroke="#000" stroke-width="0.2" font-size="9.8" textLength="33" lengthAdjust="spacingAndGlyphs">0.93770</text><rect x="1618" y="148" width="2" height="1" fill="#000"/><text x="1623" y="152" fill="#000" stroke="#000" stroke-width="0.2" font-size="9.8" textLength="33" lengthAdjust="spacingAndGlyphs">0.93615</text><rect x="1618" y="181" width="2" height="1" fill="#000"/><text x="1623" y="185" fill="#000" stroke="#000" stroke-width="0.2" font-size="9.8" textLength="33" lengthAdjust="spacingAndGlyphs">0.93460</text><rect x="1618" y="214" width="2" height="1" fill="#000"/><text x="1623" y="218" fill="#000" stroke="#000" stroke-width="0.2" font-size="9.8" textLength="33" lengthAdjust="spacingAndGlyphs">0.93305</text><rect x="1618" y="248" width="2" height="1" fill="#000"/><text x="1623" y="252" fill="#000" stroke="#000" stroke-width="0.2" font-size="9.8" textLength="33" lengthAdjust="spacingAndGlyphs">0.93150</text><rect x="1618" y="281" width="2" height="1" fill="#000"/><text x="1623" y="285" fill="#000" stroke="#000" stroke-width="0.2" font-size="9.8" textLength="33" lengthAdjust="spacingAndGlyphs">0.92995</text><rect x="1618" y="314" width="2" height="1" fill="#000"/><text x="1623" y="318" fill="#000" stroke="#000" stroke-width="0.2" font-size="9.8" textLength="33" lengthAdjust="spacingAndGlyphs">0.92840</text><rect x="1618" y="347" width="2" height="1" fill="#000"/><text x="1623" y="351" fill="#000" stroke="#000" stroke-width="0.2" font-size="9.8" textLength="33" lengthAdjust="spacingAndGlyphs">0.92685</text><rect x="1618" y="380" width="2" height="1" fill="#000"/><text x="1623" y="384" fill="#000" stroke="#000" stroke-width="0.2" font-size="9.8" textLength="33" lengthAdjust="spacingAndGlyphs">0.92535</text><rect x="1618" y="413" width="2" height="1" fill="#000"/><text x="1623" y="417" fill="#000" stroke="#000" stroke-width="0.2" font-size="9.8" textLength="33" lengthAdjust="spacingAndGlyphs">0.92380</text><rect x="1618" y="446" width="2" height="1" fill="#000"/><text x="1623" y="450" fill="#000" stroke="#000" stroke-width="0.2" font-size="9.8" textLength="33" lengthAdjust="spacingAndGlyphs">0.92225</text><rect x="1618" y="479" width="2" height="1" fill="#000"/><text x="1623" y="483" fill="#000" stroke="#000" stroke-width="0.2" font-size="9.8" textLength="33" lengthAdjust="spacingAndGlyphs">0.92075</text><rect x="1618" y="512" width="2" height="1" fill="#000"/><text x="1623" y="516" fill="#000" stroke="#000" stroke-width="0.2" font-size="9.8" textLength="33" lengthAdjust="spacingAndGlyphs">0.91920</text><rect x="1618" y="545" width="2" height="1" fill="#000"/><text x="1623" y="549" fill="#000" stroke="#000" stroke-width="0.2" font-size="9.8" textLength="33" lengthAdjust="spacingAndGlyphs">0.91765</text><rect x="1618" y="578" width="2" height="1" fill="#000"/><text x="1623" y="582" fill="#000" stroke="#000" stroke-width="0.2" font-size="9.8" textLength="33" lengthAdjust="spacingAndGlyphs">0.91610</text><rect x="1619" y="176" width="41" height="11" fill="#ff0000"/><text x="1623" y="185" fill="#fff" stroke="#fff" stroke-width="0.2" font-size="9.8" textLength="33" lengthAdjust="spacingAndGlyphs">0.93455</text><rect x="1619" y="210" width="41" height="11" fill="#ff0000"/><text x="1623" y="219" fill="#fff" stroke="#fff" stroke-width="0.2" font-size="9.8" textLength="33" lengthAdjust="spacingAndGlyphs">0.93297</text><rect x="1619" y="267" width="41" height="11" fill="#ffa500"/><text x="1623" y="276" fill="#fff" stroke="#fff" stroke-width="0.2" font-size="9.8" textLength="33" lengthAdjust="spacingAndGlyphs">0.93032</text><rect x="1619" y="303" width="41" height="11" fill="#0000ff"/><text x="1623" y="312" fill="#fff" stroke="#fff" stroke-width="0.2" font-size="9.8" textLength="33" lengthAdjust="spacingAndGlyphs">0.92865</text><rect x="1619" y="341" width="41" height="11" fill="#0000ff"/><text x="1623" y="350" fill="#fff" stroke="#fff" stroke-width="0.2" font-size="9.8" textLength="33" lengthAdjust="spacingAndGlyphs">0.92688</text><rect x="1619" y="248" width="41" height="11" fill="#000000"/><text x="1623" y="257" fill="#fff" stroke="#fff" stroke-width="0.2" font-size="9.8" textLength="33" lengthAdjust="spacingAndGlyphs">0.93124</text><rect x="1618" y="639" width="2" height="1" fill="#000"/><rect x="1618" y="585" width="2" height="1" fill="#000"/><text x="1622" y="594" fill="#000" stroke="#000" stroke-width="0.2" font-size="9.8" textLength="37" lengthAdjust="spacingAndGlyphs">0.002628</text><text x="1622" y="643" fill="#000" stroke="#000" stroke-width="0.2" font-size="9.8" textLength="18" lengthAdjust="spacingAndGlyphs">0.00</text><text x="1621" y="697" fill="#000" stroke="#000" stroke-width="0.2" font-size="9.8" textLength="40" lengthAdjust="spacingAndGlyphs">-0.002881</text><text x="1622" y="713" fill="#000" stroke="#000" stroke-width="0.2" font-size="9.8" textLength="15" lengthAdjust="spacingAndGlyphs">100</text><text x="1620" y="727" fill="#000" stroke="#000" stroke-width="0.2" font-size="9.8" textLength="10" lengthAdjust="spacingAndGlyphs">80</text><text x="1620" y="757" fill="#000" stroke="#000" stroke-width="0.2" font-size="9.8" textLength="10" lengthAdjust="spacingAndGlyphs">50</text><text x="1620" y="792" fill="#000" stroke="#000" stroke-width="0.2" font-size="9.8" textLength="10" lengthAdjust="spacingAndGlyphs">15</text><text x="1621" y="801" fill="#000" stroke="#000" stroke-width="0.2" font-size="9.8" textLength="5" lengthAdjust="spacingAndGlyphs">0</text><rect x="5" y="805" width="1" height="3" fill="#000"/><text x="4" y="817" fill="#000" stroke="#000" stroke-width="0.2" font-size="9.8" textLength="52.0" lengthAdjust="spacingAndGlyphs">21 Dec 2022</text><rect x="69" y="805" width="1" height="3" fill="#000"/><text x="68" y="817" fill="#000" stroke="#000" stroke-width="0.2" font-size="9.8" textLength="54.5" lengthAdjust="spacingAndGlyphs">22 Dec 12:00</text><rect x="133" y="805" width="1" height="3" fill="#000"/><text x="132" y="817" fill="#000" stroke="#000" stroke-width="0.2" font-size="9.8" textLength="54.5" lengthAdjust="spacingAndGlyphs">23 Dec 04:00</text><rect x="197" y="805" width="1" height="3" fill="#000"/><text x="196" y="817" fill="#000" stroke="#000" stroke-width="0.2" font-size="9.8" textLength="54.5" lengthAdjust="spacingAndGlyphs">26 Dec 23:00</text><rect x="261" y="805" width="1" height="3" fill="#000"/><text x="260" y="817" fill="#000" stroke="#000" stroke-width="0.2" font-size="9.8" textLength="54.5" lengthAdjust="spacingAndGlyphs">27 Dec 12:00</text><rect x="325" y="805" width="1" height="3" fill="#000"/><text x="324" y="817" fill="#000" stroke="#000" stroke-width="0.2" font-size="9.8" textLength="54.5" lengthAdjust="spacingAndGlyphs">28 Dec 04:00</text><rect x="389" y="805" width="1" height="3" fill="#000"/><text x="388" y="817" fill="#000" stroke="#000" stroke-width="0.2" font-size="9.8" textLength="54.5" lengthAdjust="spacingAndGlyphs">28 Dec 20:00</text><rect x="453" y="805" width="1" height="3" fill="#000"/><text x="452" y="817" fill="#000" stroke="#000" stroke-width="0.2" font-size="9.8" textLength="54.5" lengthAdjust="spacingAndGlyphs">29 Dec 12:00</text><rect x="517" y="805" width="1" height="3" fill="#000"/><text x="516" y="817" fill="#000" stroke="#000" stroke-width="0.2" font-size="9.8" textLength="54.5" lengthAdjust="spacingAndGlyphs">30 Dec 04:00</text><rect x="581" y="805" width="1" height="3" fill="#000"/><text x="580" y="817" fill="#000" stroke="#000" stroke-width="0.2" font-size="9.8" textLength="47.9" lengthAdjust="spacingAndGlyphs">2 Jan 23:00</text><rect x="645" y="805" width="1" height="3" fill="#000"/><text x="644" y="817" fill="#000" stroke="#000" stroke-width="0.2" font-size="9.8" textLength="47.9" lengthAdjust="spacingAndGlyphs">3 Jan 12:00</text><rect x="709" y="805" width="1" height="3" fill="#000"/><text x="708" y="817" fill="#000" stroke="#000" stroke-width="0.2" font-size="9.8" textLength="47.9" lengthAdjust="spacingAndGlyphs">4 Jan 04:00</text><rect x="773" y="805" width="1" height="3" fill="#000"/><text x="772" y="817" fill="#000" stroke="#000" stroke-width="0.2" font-size="9.8" textLength="47.9" lengthAdjust="spacingAndGlyphs">4 Jan 20:00</text><rect x="837" y="805" width="1" height="3" fill="#000"/><text x="836" y="817" fill="#000" stroke="#000" stroke-width="0.2" font-size="9.8" textLength="47.9" lengthAdjust="spacingAndGlyphs">5 Jan 12:00</text><rect x="901" y="805" width="1" height="3" fill="#000"/><text x="900" y="817" fill="#000" stroke="#000" stroke-width="0.2" font-size="9.8" textLength="47.9" lengthAdjust="spacingAndGlyphs">6 Jan 04:00</text><rect x="965" y="805" width="1" height="3" fill="#000"/><text x="964" y="817" fill="#000" stroke="#000" stroke-width="0.2" font-size="9.8" textLength="47.9" lengthAdjust="spacingAndGlyphs">8 Jan 23:00</text><rect x="1029" y="805" width="1" height="3" fill="#000"/><text x="1028" y="817" fill="#000" stroke="#000" stroke-width="0.2" font-size="9.8" textLength="47.9" lengthAdjust="spacingAndGlyphs">9 Jan 12:00</text><rect x="1093" y="805" width="1" height="3" fill="#000"/><text x="1092" y="817" fill="#000" stroke="#000" stroke-width="0.2" font-size="9.8" textLength="53.0" lengthAdjust="spacingAndGlyphs">10 Jan 04:00</text><rect x="1157" y="805" width="1" height="3" fill="#000"/><text x="1156" y="817" fill="#000" stroke="#000" stroke-width="0.2" font-size="9.8" textLength="53.0" lengthAdjust="spacingAndGlyphs">10 Jan 20:00</text><rect x="1221" y="805" width="1" height="3" fill="#000"/><text x="1220" y="817" fill="#000" stroke="#000" stroke-width="0.2" font-size="9.8" textLength="52.3" lengthAdjust="spacingAndGlyphs">11 Jan 12:00</text><polygon points="8,30 15,30 11.5,34" fill="#000"/><text x="21" y="35" fill="#000" stroke="#000" stroke-width="0.2" font-size="9.8" textLength="57" lengthAdjust="spacingAndGlyphs">USDCHF-,H4</text><text x="84" y="35" fill="#000" stroke="#000" stroke-width="0.2" font-size="9.8" textLength="140.5" lengthAdjust="spacingAndGlyphs">0.93107 0.93175 0.93072 0.93124</text><text x="9.3" y="596" fill="#000" stroke="#000" stroke-width="0.2" font-size="9.8" textLength="153.2" lengthAdjust="spacingAndGlyphs">MACD(12,26,9) -0.000015 -0.001676</text><text x="9" y="715" fill="#000" stroke="#000" stroke-width="0.2" font-size="9.8" textLength="67" lengthAdjust="spacingAndGlyphs">RSI(14) 60.5111</text></g></svg></body></html>
